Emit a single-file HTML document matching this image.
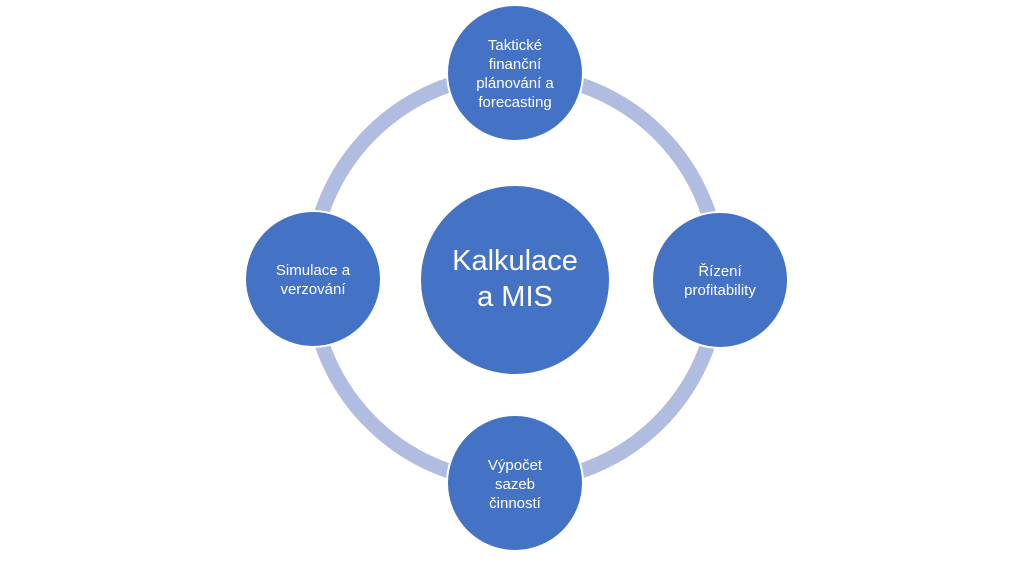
<!DOCTYPE html>
<html><head><meta charset="utf-8"><style>
html,body{margin:0;padding:0;background:#fff;}
svg{display:block;}
text{font-family:"Liberation Sans",sans-serif;fill:#fff;text-anchor:middle;}
</style></head><body>
<svg width="1036" height="564" viewBox="0 0 1036 564">
<circle cx="515" cy="278" r="204" fill="none" stroke="#b0bde0" stroke-width="15"/>
<g fill="#4472c4" stroke="#fff" stroke-width="2">
<circle cx="515" cy="280" r="95"/>
<circle cx="515" cy="73" r="68"/>
<circle cx="515" cy="483" r="68"/>
<circle cx="313" cy="279" r="68"/>
<circle cx="720" cy="280" r="68"/>
</g>
<text x="515" y="270" font-size="29">Kalkulace</text>
<text x="515" y="306" font-size="29">a MIS</text>
<g font-size="15">
<text x="515" y="50">Taktické</text>
<text x="515" y="69">finanční</text>
<text x="515" y="88">plánování a</text>
<text x="515" y="107">forecasting</text>
<text x="313" y="275">Simulace a</text>
<text x="313" y="294">verzování</text>
<text x="720" y="276">Řízení</text>
<text x="720" y="295">profitability</text>
<text x="515" y="470">Výpočet</text>
<text x="515" y="489">sazeb</text>
<text x="515" y="508">činností</text>
</g>
</svg>
</body></html>
